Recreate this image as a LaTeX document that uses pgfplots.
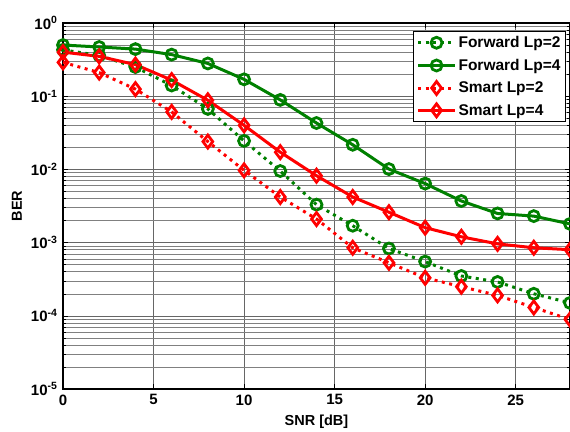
\documentclass[border=0pt]{standalone}
\usepackage{fontspec}
\setmainfont{Liberation Sans}
\usepackage{pgfplots}
\pgfplotsset{compat=1.18}
\usetikzlibrary{calc}
\definecolor{mgreen}{RGB}{0,128,0}
\definecolor{mred}{RGB}{255,0,0}
\begin{document}
\begin{tikzpicture}
\begin{axis}[
    scale only axis,
    width=507pt, height=366pt,
    ymode=log,
    xmin=0, xmax=28, ymin=1e-5, ymax=1,
    xtick={0,5,10,15,20,25},
    ytick={1e-5,1e-4,1e-3,1e-2,1e-1,1},
    yticklabels={10\textsuperscript{-5},10\textsuperscript{-4},10\textsuperscript{-3},10\textsuperscript{-2},10\textsuperscript{-1},10\textsuperscript{0}},
    /pgf/number format/assume math mode=true,
    tick label style={font=\fontsize{15}{17}\selectfont\bfseries},
    xticklabel style={yshift=-2pt},
    yticklabel style={xshift=-2pt},
    label style={font=\fontsize{14.5}{17}\selectfont\bfseries},
    xlabel={SNR [dB]}, ylabel={BER},
    xlabel style={at={(axis description cs:0.5,0)}, anchor=center, yshift=-33pt},
    ylabel style={at={(axis description cs:0,0.5)}, anchor=center, yshift=46pt},
    xmajorgrids, ymajorgrids, yminorgrids,
    major grid style={black!60, line width=0.5pt},
    minor grid style={black!50, line width=0.5pt},
    axis line style={line width=1.2pt},
    tick style={black, line width=0.5pt},
    major tick length=5pt, minor tick length=3pt,
    legend style={at={(1,1)}, xshift=-4pt, yshift=-8pt, anchor=north east,
      font=\fontsize{15.5}{18}\selectfont\bfseries,
      draw=black, line width=0.8pt, inner sep=3pt, row sep=6pt},
    legend cell align=left,
    legend image post style={line width=3pt},
    legend image code/.code={\draw[#1] (0cm,0cm) -- (1.3cm,0cm);
      \draw[#1, solid] plot coordinates {(0.65cm,0cm)};},
]
\addplot[mgreen, line width=3pt, dash pattern=on 3pt off 4.5pt, mark=o, mark size=5.5pt, mark options={solid, line width=2.8pt}]
coordinates {(0,0.43) (2,0.36) (4,0.25) (6,0.14) (8,0.067) (10,0.0245) (12,0.0095) (14,0.0033) (16,0.0017) (18,0.00083) (20,0.00055) (22,0.00035) (24,0.00029) (26,0.0002) (28,0.00015)};
\addlegendentry{Forward Lp=2}
\addplot[mgreen, line width=3pt, mark=o, mark size=5.5pt, mark options={solid, line width=2.8pt}]
coordinates {(0,0.5) (2,0.47) (4,0.44) (6,0.37) (8,0.28) (10,0.17) (12,0.089) (14,0.043) (16,0.0217) (18,0.0101) (20,0.0064) (22,0.0037) (24,0.0025) (26,0.0023) (28,0.0018)};
\addlegendentry{Forward Lp=4}
\addplot[mred, line width=3pt, dash pattern=on 3pt off 4.5pt, mark=diamond, mark size=6.5pt, mark options={solid, line width=2.8pt}]
coordinates {(0,0.29) (2,0.21) (4,0.125) (6,0.061) (8,0.024) (10,0.0097) (12,0.0042) (14,0.0021) (16,0.00085) (18,0.00053) (20,0.00033) (22,0.00025) (24,0.00019) (26,0.00013) (28,0.000089)};
\addlegendentry{Smart Lp=2}
\addplot[mred, line width=3pt, mark=diamond, mark size=6.5pt, mark options={solid, line width=2.8pt}]
coordinates {(0,0.4) (2,0.35) (4,0.27) (6,0.166) (8,0.088) (10,0.04) (12,0.0172) (14,0.0082) (16,0.0042) (18,0.0026) (20,0.0016) (22,0.0012) (24,0.00096) (26,0.00085) (28,0.0008)};
\addlegendentry{Smart Lp=4}
\end{axis}
\pgfresetboundingbox
\path ($(current axis.south west)+(-63pt,-43pt)$) rectangle ($(current axis.north east)+(0pt,23pt)$);
\end{tikzpicture}
\end{document}
